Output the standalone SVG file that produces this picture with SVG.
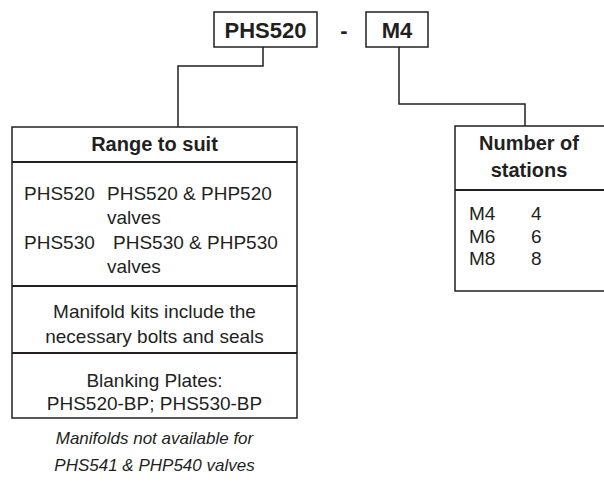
<svg xmlns="http://www.w3.org/2000/svg" width="604" height="482" viewBox="0 0 604 482">
<style>
.t{font-family:"Liberation Sans",Arial,sans-serif;font-size:19px;fill:#231f20}
.b{font-weight:bold;font-size:20px}
.h{font-weight:bold;font-size:22px}
.c{text-anchor:middle}
.i{font-style:italic;font-size:17px}
.box{fill:#fff;stroke:#231f20;stroke-width:1.5}
.div{stroke:#231f20;stroke-width:2.2;fill:none}
.con{stroke:#231f20;stroke-width:1.5;fill:none}
</style>
<rect width="604" height="482" fill="#fff"/>
<g id="connectors">
<polyline class="con" points="263,47 263,66 178,66 178,127"/>
<polyline class="con" points="399,47 399,104 525,104 525,126"/>
</g>
<g id="code">
<rect class="box" x="214" y="12" width="103" height="35"/>
<text class="t h c" x="265.5" y="37.5">PHS520</text>
</g>
<g id="dash">
<text class="t h c" x="344" y="37.5">-</text>
</g>
<g id="stations-code">
<rect class="box" x="366" y="12" width="62" height="35"/>
<text class="t h c" x="397" y="37.5">M4</text>
</g>
<g id="range">
<rect class="box" x="12" y="127" width="285" height="291"/>
<line class="div" x1="12" y1="162" x2="297" y2="162"/>
<line class="div" x1="12" y1="286" x2="297" y2="286"/>
<line class="div" x1="12" y1="353" x2="297" y2="353"/>
<text class="t b c" x="154.5" y="151">Range to suit</text>
<text class="t" x="24" y="200">PHS520</text>
<text class="t" x="107" y="200">PHS520 &amp; PHP520</text>
<text class="t" x="107" y="224">valves</text>
<text class="t" x="24" y="249">PHS530</text>
<text class="t" x="113" y="249">PHS530 &amp; PHP530</text>
<text class="t" x="107" y="273">valves</text>
<text class="t c" x="154.5" y="318">Manifold kits include the</text>
<text class="t c" x="154.5" y="343">necessary bolts and seals</text>
<text class="t c" x="154.5" y="387">Blanking Plates:</text>
<text class="t c" x="154.5" y="410">PHS520-BP; PHS530-BP</text>
</g>
<g id="note">
<text class="t i c" x="154.5" y="444">Manifolds not available for</text>
<text class="t i c" x="154.5" y="471">PHS541 &amp; PHP540 valves</text>
</g>
<g id="stations">
<polyline class="box" points="606,126 455,126 455,291 606,291"/>
<line class="div" x1="455" y1="190" x2="606" y2="190"/>
<text class="t b c" x="529" y="150">Number of</text>
<text class="t b c" x="529" y="177">stations</text>
<text class="t" x="469" y="220">M4</text>
<text class="t" x="531" y="220">4</text>
<text class="t" x="469" y="243">M6</text>
<text class="t" x="531" y="243">6</text>
<text class="t" x="469" y="265">M8</text>
<text class="t" x="531" y="265">8</text>
</g>
</svg>
